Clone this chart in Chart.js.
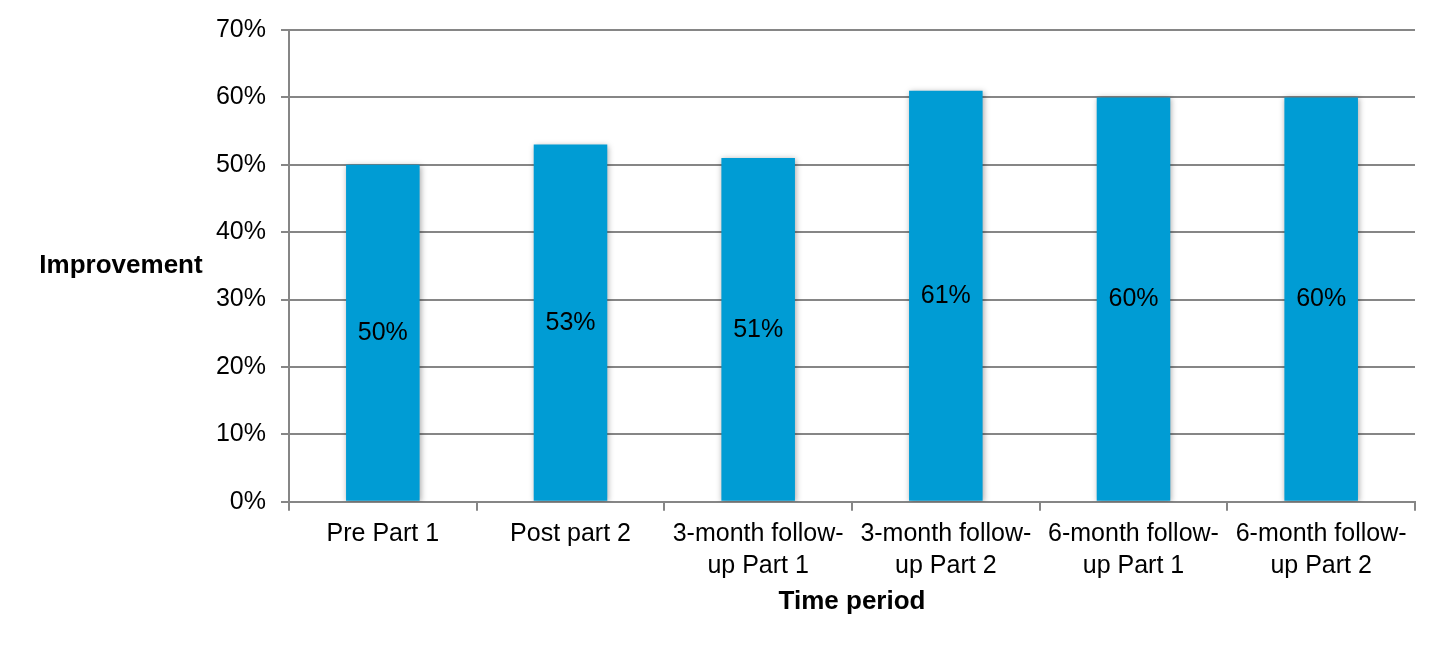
<!DOCTYPE html>
<html>
<head>
<meta charset="utf-8">
<script src="https://cdn.jsdelivr.net/npm/chart.js@4.4.1/dist/chart.umd.min.js"></script>
<style>
html,body{margin:0;padding:0;background:#fff;}
#wrap{width:1443px;height:649px;}
</style>
</head>
<body>
<div id="wrap"><canvas id="c" width="1443" height="649"></canvas></div>
<script>
const categories = [
  ['Pre Part 1'],
  ['Post part 2'],
  ['3-month follow-', 'up Part 1'],
  ['3-month follow-', 'up Part 2'],
  ['6-month follow-', 'up Part 1'],
  ['6-month follow-', 'up Part 2']
];
const improvement = [50, 53, 51, 61, 60, 60];
const valueLabels = ['50%', '53%', '51%', '61%', '60%', '60%'];
const yTitle = 'Improvement';
const xTitle = 'Time period';

const FONT = "'Liberation Sans', Arial, sans-serif";
const GRID = '#868686';

const shadowPlugin = {
  id: 'barShadow',
  beforeDatasetsDraw(chart) {
    const ctx = chart.ctx;
    ctx.save();
    ctx.shadowColor = 'rgba(0,0,0,0.35)';
    ctx.shadowBlur = 6;
    ctx.shadowOffsetX = 1;
    ctx.shadowOffsetY = 1;
  },
  afterDatasetsDraw(chart) {
    chart.ctx.restore();
  }
};

const labelPlugin = {
  id: 'valueLabels',
  afterDatasetsDraw(chart) {
    const ctx = chart.ctx;
    const meta = chart.getDatasetMeta(0);
    const yScale = chart.scales.y;
    ctx.save();
    ctx.font = "25px " + FONT;
    ctx.fillStyle = '#000';
    ctx.textAlign = 'center';
    ctx.textBaseline = 'middle';
    meta.data.forEach((bar, i) => {
      const yMid = yScale.getPixelForValue(improvement[i] / 2);
      ctx.fillText(valueLabels[i], bar.x, yMid);
    });
    ctx.restore();
  }
};

const yTitlePlugin = {
  id: 'yTitleHorizontal',
  afterDraw(chart) {
    const ctx = chart.ctx;
    const yScale = chart.scales.y;
    ctx.save();
    ctx.font = "bold 26px " + FONT;
    ctx.fillStyle = '#000';
    ctx.textAlign = 'center';
    ctx.textBaseline = 'middle';
    ctx.fillText(yTitle, 121, (yScale.top + yScale.bottom) / 2);
    ctx.restore();
  }
};

new Chart(document.getElementById('c'), {
  type: 'bar',
  data: {
    labels: categories,
    datasets: [{
      data: improvement,
      backgroundColor: '#009CD4',
      borderWidth: 0,
      barPercentage: 1.0,
      categoryPercentage: 0.392
    }]
  },
  options: {
    responsive: false,
    devicePixelRatio: 1,
    animation: false,
    layout: { padding: { top: 28, right: 28, bottom: 32, left: 0 } },
    plugins: {
      legend: { display: false },
      tooltip: { enabled: false }
    },
    scales: {
      x: {
        offset: true,
        grid: {
          display: true,
          drawOnChartArea: false,
          drawTicks: true,
          tickLength: 9,
          color: GRID,
          lineWidth: 2,
          offset: true
        },
        border: { display: true, color: GRID, width: 2 },
        ticks: {
          color: '#000',
          font: { family: FONT, size: 25, lineHeight: 1.28 },
          maxRotation: 0,
          minRotation: 0,
          autoSkip: false,
          padding: 7
        },
        title: {
          display: true,
          text: xTitle,
          color: '#000',
          font: { family: FONT, size: 26, weight: 'bold' },
          padding: { top: -3, bottom: 0 }
        }
      },
      y: {
        min: 0,
        max: 70,
        afterFit(scale) { scale.width = 289; },
        grid: {
          color: GRID,
          lineWidth: 2,
          drawTicks: true,
          tickLength: 8
        },
        border: { display: true, color: GRID, width: 2 },
        ticks: {
          stepSize: 10,
          color: '#000',
          font: { family: FONT, size: 25 },
          padding: 15,
          callback: (v) => v + '%'
        }
      }
    }
  },
  plugins: [shadowPlugin, labelPlugin, yTitlePlugin]
});
</script>
</body>
</html>
